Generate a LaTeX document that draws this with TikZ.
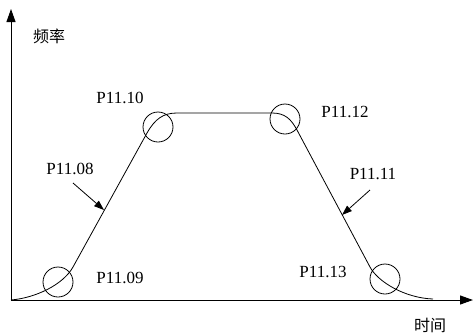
\documentclass[tikz,border=0pt]{standalone}
\usepackage{fontspec}
\setmainfont{Liberation Serif}
\newfontfamily\cjk{Noto Sans CJK SC}
\usetikzlibrary{arrows.meta}

\tikzset{
  axis/.style={line width=1pt, -{Triangle[length=13pt,width=9pt]}},
  curve/.style={line width=0.8pt},
  ring/.style={circle, draw, line width=0.8pt, minimum size=30pt, inner sep=0pt},
  param/.style={font=\fontsize{17}{17}\selectfont, inner sep=0pt},
  axlabel/.style={font=\cjk\fontsize{16}{16}\selectfont, inner sep=0pt},
  pointer/.style={line width=0.8pt, -{Triangle[length=10pt,width=7pt]}}
}

\begin{document}
\begin{tikzpicture}[x=1pt, y=-1pt]
  \useasboundingbox (0,0) rectangle (474,333);
  % axes
  \coordinate (o) at (11,300);
  \coordinate (ytip) at (11,9);
  \coordinate (xtip) at (473,300);
  \draw[axis] (o) -- (ytip);
  \draw[axis] (o) -- (xtip);
  \node[axlabel] (freq) at (49,36) {频率};
  \node[axlabel] (time) at (430,325) {时间};
  % frequency curve
  \draw[curve] (o) .. controls (35,298) and (63,285) .. (73,267)
    -- (147,133) .. controls (155,119) and (163,113) .. (177,113)
    -- (272,113) .. controls (285,113) and (291,119) .. (297,130)
    -- (370,267) .. controls (378,282) and (405,298) .. (433,299);
  % corner marks
  \node[ring] (c09) at (58,282) {};
  \node[ring] (c10) at (158,127) {};
  \node[ring] (c12) at (285,119) {};
  \node[ring] (c13) at (385,279) {};
  \node[param] (p09) at (120,278) {P11.09};
  \node[param] (p10) at (120,98) {P11.10};
  \node[param] (p12) at (345,112) {P11.12};
  \node[param] (p13) at (323,272) {P11.13};
  % slope pointers
  \node[param] (p08) at (70,169) {P11.08};
  \node[param] (p11) at (373,174) {P11.11};
  \coordinate (s08) at (73,183);
  \coordinate (t08) at (104,210);
  \coordinate (s11) at (370,190);
  \coordinate (t11) at (342,215);
  \draw[pointer] (s08) -- (t08);
  \draw[pointer] (s11) -- (t11);
\end{tikzpicture}
\end{document}
